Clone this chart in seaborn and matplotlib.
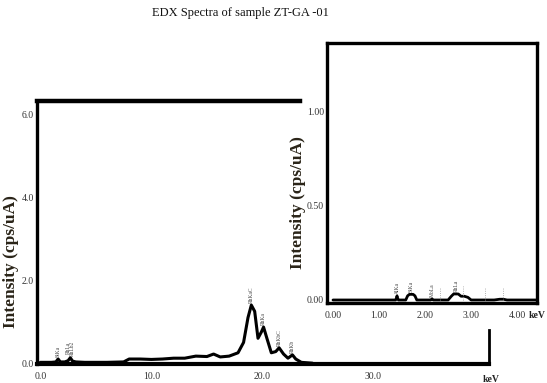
import matplotlib
matplotlib.use("Agg")
import matplotlib.pyplot as plt
import seaborn as sns
import pandas as pd

# ---- data ----
main_kev = [0.0, 0.5, 1.0, 1.4, 1.6, 1.8, 2.2, 2.5, 2.7, 2.9, 3.2, 4.0, 6.0, 7.5,
            8.0, 9.0, 10.0, 11.0, 12.0, 13.0, 14.0, 15.0, 15.6, 16.2, 17.0, 17.8,
            18.3, 18.7, 19.0, 19.3, 19.6, 19.9, 20.1, 20.4, 20.8, 21.2, 21.5, 21.9,
            22.3, 22.7, 23.0, 23.5, 24.5]
main_int = [0.02, 0.02, 0.02, 0.03, 0.10, 0.03, 0.03, 0.06, 0.13, 0.05, 0.03, 0.02,
            0.02, 0.03, 0.10, 0.10, 0.09, 0.10, 0.12, 0.12, 0.17, 0.16, 0.22, 0.15,
            0.17, 0.25, 0.50, 1.10, 1.40, 1.25, 0.60, 0.75, 0.87, 0.60, 0.25, 0.28,
            0.37, 0.22, 0.12, 0.20, 0.10, 0.02, 0.00]
main_peak_names = ["SiKa", "RhLa\nRhLb2", "RhKaC", "RhKa", "RhKbC", "RhKb"]
main_peak_kev = [1.6, 2.7, 19.0, 20.1, 21.5, 22.7]
main_peak_top = [0.10, 0.13, 1.40, 0.87, 0.37, 0.20]

inset_kev = [0.0, 1.0, 1.36, 1.38, 1.39, 1.40, 1.42, 1.58, 1.62, 1.66, 1.74, 1.78,
             1.82, 2.0, 2.12, 2.15, 2.18, 2.50, 2.57, 2.62, 2.72, 2.78, 2.85, 2.93,
             3.0, 3.5, 3.62, 3.70, 3.78, 4.5]
inset_int = [0.0, 0.0, 0.0, 0.012, 0.022, 0.012, 0.0, 0.0, 0.022, 0.030, 0.030, 0.022,
             0.0, 0.0, 0.0, 0.006, 0.0, 0.0, 0.02, 0.032, 0.032, 0.020, 0.020, 0.014,
             0.0, 0.0, 0.004, 0.004, 0.0, 0.0]
inset_peak_names = ["AlKa", "SiKa", "MoLa", "RhLa"]
inset_peak_kev = [1.39, 1.70, 2.15, 2.67]
inset_peak_top = [0.022, 0.030, 0.006, 0.032]
inset_marker_kev = [2.33, 2.83, 3.30, 3.70]
inset_marker_h = [0.070, 0.075, 0.065, 0.065]

main_yticks = [0.0, 2.0, 4.0, 6.0]
main_xticks = [0.0, 10.0, 20.0, 30.0]
inset_yticks = [0.0, 0.5, 1.0]
inset_xticks = [0.0, 1.0, 2.0, 3.0, 4.0]

title = "EDX Spectra of sample ZT-GA -01"
ylab = "Intensity (cps/uA)"

# ---- style ----
sns.set_theme(style="white")
plt.rcParams["font.family"] = ["Liberation Serif", "DejaVu Serif"]

W, H = 547, 383
fig = plt.figure(figsize=(W / 100, H / 100), dpi=100)

def frac(x0, y0, x1, y1):
    return [x0 / W, 1 - y1 / H, (x1 - x0) / W, (y1 - y0) / H]

tick_col = "#333333"
lab_col = "#2a2418"

# ---- main axes ----
ax = fig.add_axes(frac(37, 101, 489, 364))
df_main = pd.DataFrame({"keV": main_kev, "I": main_int})
sns.lineplot(data=df_main, x="keV", y="I", ax=ax, color="black", lw=2.2)
ax.set_xlim(-0.3, 40.4)
ax.set_ylim(-0.02, 6.32)
ax.set_xticks(main_xticks)
ax.set_xticklabels([f"{v:.1f}" for v in main_xticks])
ax.set_yticks(main_yticks)
ax.set_yticklabels([f"{v:.1f}" for v in main_yticks])
ax.tick_params(axis="both", length=0, labelsize=7, colors=tick_col, pad=2)
ax.tick_params(axis="x", pad=6)
ax.set_xlabel("")
ax.set_ylabel("")
fig.text(11 / W, 1 - 262 / H, ylab, rotation=90, fontsize=12.5, fontweight="bold",
         color=lab_col, ha="center", va="center")
for s in ["left", "bottom", "top", "right"]:
    ax.spines[s].set_color("black")
ax.spines["left"].set_linewidth(2.4)
ax.spines["bottom"].set_linewidth(3.0)
ax.spines["top"].set_linewidth(3.2)
ax.spines["top"].set_bounds(-0.3, 23.4)
ax.spines["right"].set_linewidth(2.0)
ax.spines["right"].set_bounds(0, 0.8)
for name, xk, yt in zip(main_peak_names, main_peak_kev, main_peak_top):
    ax.text(xk, yt + 0.05, name, rotation=90, fontsize=4, ha="center",
            va="bottom", color="#444444", linespacing=0.9)
fig.text(483 / W, 1 - 379 / H, "keV", fontsize=7, fontweight="bold",
         ha="left", va="center", color="#222222")

# ---- inset axes ----
ax2 = fig.add_axes(frac(327, 43, 537, 303))
df_in = pd.DataFrame({"keV": inset_kev, "I": inset_int})
sns.lineplot(data=df_in, x="keV", y="I", ax=ax2, color="black", lw=2.0)
ax2.set_xlim(-0.13, 4.43)
ax2.set_ylim(-0.016, 1.367)
ax2.set_xticks(inset_xticks)
ax2.set_xticklabels([f"{v:.2f}" for v in inset_xticks])
ax2.set_yticks(inset_yticks)
ax2.set_yticklabels([f"{v:.2f}" for v in inset_yticks])
ax2.tick_params(axis="both", length=0, labelsize=7, colors=tick_col, pad=2)
ax2.tick_params(axis="x", pad=6)
ax2.set_xlabel("")
ax2.set_ylabel("")
fig.text(298 / W, 1 - 203 / H, ylab, rotation=90, fontsize=12.5, fontweight="bold",
         color=lab_col, ha="center", va="center")
for s in ["left", "bottom", "top", "right"]:
    ax2.spines[s].set_color("black")
    ax2.spines[s].set_linewidth(2.4)
for xk, h in zip(inset_marker_kev, inset_marker_h):
    ax2.vlines(xk, 0, h, color="#999999", lw=0.6, linestyles=":")
for name, xk, yt in zip(inset_peak_names, inset_peak_kev, inset_peak_top):
    ax2.text(xk, yt + 0.012, name, rotation=90, fontsize=4, ha="center",
             va="bottom", color="#444444")
fig.text(546 / W, 1 - 316 / H, "keV", fontsize=7, fontweight="bold",
         ha="right", va="center", color="#222222")

fig.text(240 / W, 1 - 13 / H, title, fontsize=9, ha="center", va="center",
         color="#111111")

fig.savefig("out.png", dpi=100, facecolor="white")
